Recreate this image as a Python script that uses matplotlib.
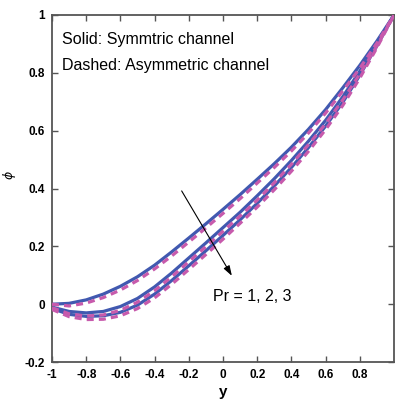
import matplotlib
matplotlib.use("Agg")
import matplotlib.pyplot as plt

y = [-1.0, -0.9, -0.8, -0.7, -0.6, -0.5, -0.4, -0.3, -0.2, -0.1, 0.0,
     0.1, 0.2, 0.3, 0.4, 0.5, 0.6, 0.7, 0.8, 0.9, 1.0]

# symmetric channel (solid), Pr = 1, 2, 3
sym_pr1 = [0.000, 0.003, 0.015, 0.035, 0.062, 0.095, 0.135, 0.181, 0.229, 0.278, 0.328,
           0.379, 0.432, 0.486, 0.543, 0.605, 0.673, 0.748, 0.826, 0.910, 1.000]
sym_pr2 = [-0.010, -0.025, -0.030, -0.025, -0.008, 0.020, 0.060, 0.108, 0.160, 0.212, 0.265,
           0.318, 0.375, 0.434, 0.497, 0.564, 0.636, 0.717, 0.806, 0.900, 1.000]
sym_pr3 = [-0.015, -0.035, -0.042, -0.040, -0.028, -0.003, 0.035, 0.082, 0.133, 0.185, 0.238,
           0.292, 0.349, 0.409, 0.473, 0.542, 0.616, 0.698, 0.792, 0.894, 1.000]

# asymmetric channel (dashed), Pr = 1, 2, 3
asym_pr1 = [0.000, -0.006, 0.004, 0.023, 0.049, 0.082, 0.122, 0.167, 0.215, 0.264, 0.314,
            0.365, 0.419, 0.473, 0.530, 0.592, 0.661, 0.737, 0.816, 0.903, 1.000]
asym_pr2 = [-0.012, -0.033, -0.041, -0.037, -0.021, 0.007, 0.047, 0.095, 0.147, 0.199, 0.252,
            0.305, 0.360, 0.420, 0.484, 0.552, 0.624, 0.706, 0.796, 0.893, 1.000]
asym_pr3 = [-0.018, -0.043, -0.053, -0.052, -0.040, -0.015, 0.022, 0.069, 0.120, 0.172, 0.225,
            0.280, 0.336, 0.396, 0.460, 0.529, 0.604, 0.687, 0.782, 0.887, 1.000]

xticks = [-1, -0.8, -0.6, -0.4, -0.2, 0, 0.2, 0.4, 0.6, 0.8]
xticklabels = ['-1', '-0.8', '-0.6', '-0.4', '-0.2', '0', '0.2', '0.4', '0.6', '0.8']
yticks = [-0.2, 0, 0.2, 0.4, 0.6, 0.8, 1]
yticklabels = ['-0.2', '0', '0.2', '0.4', '0.6', '0.8', '1']

blue = '#4159b0'
pink = '#c75aac'

fig = plt.figure(figsize=(3.95, 4.05), dpi=100)
ax = fig.add_axes([0.1316, 0.106, 0.866, 0.857])

for s in [sym_pr1, sym_pr2, sym_pr3]:
    ax.plot(y, s, color=blue, lw=2.3, zorder=2)
for a in [asym_pr1, asym_pr2, asym_pr3]:
    ax.plot(y, a, color=pink, lw=2.3, dashes=(2.2, 1.6), zorder=3)

ax.set_xlim(-1, 1)
ax.set_ylim(-0.2, 1)
ax.set_xticks(xticks)
ax.set_xticklabels(xticklabels)
ax.set_yticks(yticks)
ax.set_yticklabels(yticklabels)

tickfont = ['Liberation Sans', 'DejaVu Sans']
for lab in ax.get_xticklabels() + ax.get_yticklabels():
    lab.set_family(tickfont)
    lab.set_fontweight('bold')
    lab.set_fontsize(8.5)

ax.tick_params(direction='in', top=True, right=True, length=4, width=1,
               color='#555555', pad=5)
for sp in ax.spines.values():
    sp.set_color('#555555')
    sp.set_linewidth(1.3)

ax.set_xlabel('y', fontsize=11, fontweight='bold', family=tickfont, labelpad=3)
ax.set_ylabel('$\\phi$', fontsize=9)
ax.yaxis.set_label_coords(-0.098, 0.54)

txtfont = ['Liberation Sans', 'DejaVu Sans']
ax.text(-0.94, 0.915, 'Solid: Symmtric channel', fontsize=11.5, family=txtfont,
        va='center', ha='left')
ax.text(-0.94, 0.825, 'Dashed: Asymmetric channel', fontsize=11.5, family=txtfont,
        va='center', ha='left')
ax.text(-0.06, 0.028, 'Pr = 1, 2, 3', fontsize=11.5, family=txtfont,
        va='center', ha='left')

ax.annotate('', xy=(0.06, 0.09), xytext=(-0.25, 0.40),
            arrowprops=dict(arrowstyle='-|>,head_length=0.6,head_width=0.2',
                            color='black', lw=0.8))

fig.savefig('out.png', dpi=100)
